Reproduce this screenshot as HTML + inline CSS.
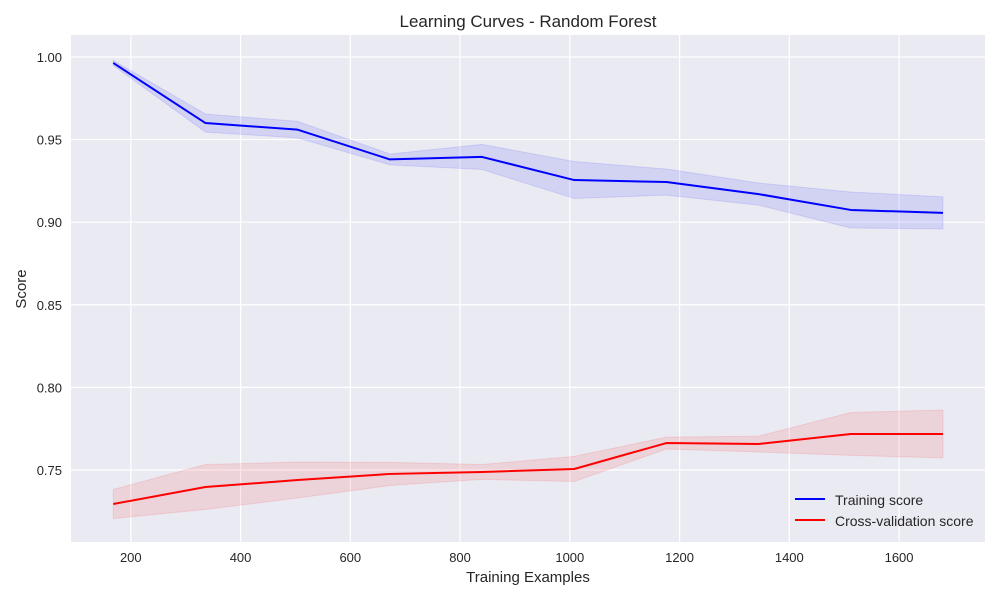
<!DOCTYPE html>
<html><head><meta charset="utf-8"><style>
body{margin:0;background:#fff;font-family:"Liberation Sans",sans-serif}
svg text{font-family:"Liberation Sans",sans-serif;fill:#262626}
</style></head><body>
<svg id="chart" width="1000" height="600">
<rect x="71" y="35" width="914" height="507" fill="#eaeaf2"/>
<g id="grid"></g><g id="bands"></g><g id="lines"></g><g id="ticks"></g>
<text x="528" y="27" text-anchor="middle" font-size="17">Learning Curves - Random Forest</text>
<text x="528" y="582" text-anchor="middle" font-size="15">Training Examples</text>
<text x="26" y="289" text-anchor="middle" font-size="15" transform="rotate(-90 26 289)">Score</text>
<g>
<line x1="795" y1="499" x2="825" y2="499" stroke="#0000ff" stroke-width="2"/>
<text x="835" y="505" font-size="14">Training score</text>
<line x1="795" y1="520" x2="825" y2="520" stroke="#ff0000" stroke-width="2"/>
<text x="835" y="526" font-size="14">Cross-validation score</text>
</g>
</svg>
<script>
const trainSizes=[168,336,504,672,840,1008,1176,1344,1512,1680];
const trainMean=[0.9964,0.960,0.956,0.938,0.9395,0.9255,0.9243,0.917,0.9074,0.9056];
const trainStd=[0.0015,0.0055,0.005,0.0033,0.0076,0.0112,0.0079,0.0067,0.0109,0.0097];
const cvMean=[0.7294,0.7397,0.7439,0.7476,0.7488,0.7506,0.7663,0.7657,0.7718,0.7718];
const cvStd=[0.0088,0.0136,0.0109,0.007,0.0045,0.0076,0.0036,0.0048,0.013,0.0145];
const xTicks=[200,400,600,800,1000,1200,1400,1600];
const yTicks=[0.75,0.80,0.85,0.90,0.95,1.00];
const NS='http://www.w3.org/2000/svg';
const X0=71,X1=985,Y0=542,Y1=35,xmin=91,xmax=1756.6,ymin=0.7064,ymax=1.0133;
const sx=v=>X0+(v-xmin)/(xmax-xmin)*(X1-X0);
const sy=v=>Y0-(v-ymin)/(ymax-ymin)*(Y0-Y1);
function mk(tag,attrs,parent){const e=document.createElementNS(NS,tag);for(const k in attrs)e.setAttribute(k,attrs[k]);document.getElementById(parent).appendChild(e);return e;}
xTicks.forEach(t=>{
 const l=mk('line',{x1:sx(t),x2:sx(t),y1:Y1,y2:Y0,stroke:'#fff','stroke-width':1.2},'grid');
 
 
 const tx=mk('text',{x:sx(t),y:Y0+20,'text-anchor':'middle','font-size':13},'ticks');
 tx.textContent=t;
 
 
});
yTicks.forEach(t=>{
 const l=mk('line',{x1:X0,x2:X1,y1:sy(t),y2:sy(t),stroke:'#fff','stroke-width':1.2},'grid');
 
 
 const tx=mk('text',{x:X0-9,y:sy(t)+5,'text-anchor':'end','font-size':13},'ticks');
 tx.textContent=t.toFixed(2);
 
 
});
function band(mean,std,color,name){
 const up=trainSizes.map((s,i)=>sx(s)+','+sy(mean[i]+std[i]));
 const lo=trainSizes.map((s,i)=>sx(s)+','+sy(mean[i]-std[i])).reverse();
 const p=mk('polygon',{points:up.concat(lo).join(' '),fill:color,'fill-opacity':0.1,stroke:color,'stroke-opacity':0.1},'bands');
 
 
}
function line(mean,color,name){
 const p=mk('polyline',{points:trainSizes.map((s,i)=>sx(s)+','+sy(mean[i])).join(' '),fill:'none',stroke:color,'stroke-width':2,'stroke-linejoin':'round'},'lines');
 
 
}
band(trainMean,trainStd,'#0000ff','training-score-band');
band(cvMean,cvStd,'#ff0000','cv-score-band');
line(trainMean,'#0000ff','training-score-line');
line(cvMean,'#ff0000','cv-score-line');
</script>
</body></html>
